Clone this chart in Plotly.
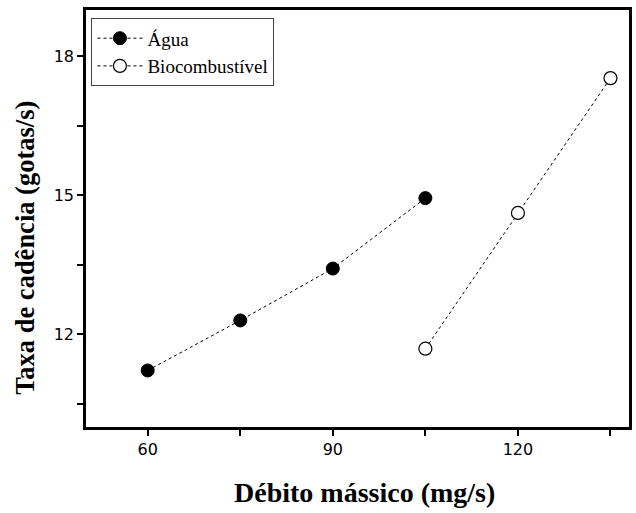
import plotly.graph_objects as go

# Mass flow rate (mg/s) and drop cadence (drops/s)
agua_x = [60, 75, 90, 105]
agua_y = [11.22, 12.30, 13.42, 14.94]

bio_x = [105, 120, 135]
bio_y = [11.69, 14.62, 17.53]

x_ticks = [60, 90, 120]
y_ticks = [12, 15, 18]

x_title = "Débito mássico (mg/s)"
y_title = "Taxa de cadência (gotas/s)"

serif = "Liberation Serif, DejaVu Serif, serif"
sans = "DejaVu Sans, Lato, sans-serif"

fig = go.Figure()
fig.add_trace(go.Scatter(
    x=agua_x, y=agua_y, name="Água", mode="lines+markers",
    line=dict(color="black", width=1, dash="3px,3px"),
    marker=dict(symbol="circle", size=13, color="black",
                line=dict(color="black", width=1)),
))
fig.add_trace(go.Scatter(
    x=bio_x, y=bio_y, name="Biocombustível", mode="lines+markers",
    line=dict(color="black", width=1, dash="3px,3px"),
    marker=dict(symbol="circle", size=13, color="white",
                line=dict(color="black", width=1.2)),
))

axis_common = dict(
    showgrid=False, zeroline=False,
    showline=True, linecolor="black", linewidth=2.5, mirror=True,
    ticks="outside", ticklen=6, tickwidth=2, tickcolor="black",
    minor=dict(ticks="outside", ticklen=6, tickwidth=2, tickcolor="black"),
    tickfont=dict(family=sans, size=16, color="black"),
)

fig.update_xaxes(range=[50, 138], tickvals=x_ticks,
                 minor_tickvals=[75, 105, 135], **axis_common)
fig.update_yaxes(range=[10, 19], tickvals=y_ticks,
                 minor_tickvals=[10.5, 13.5, 16.5], **axis_common)

fig.add_annotation(text=f"<b>{x_title}</b>", xref="paper", yref="paper",
                   x=0.513, y=-0.158, xanchor="center", yanchor="middle",
                   showarrow=False,
                   font=dict(family=serif, size=28, color="black"))
fig.add_annotation(text=f"<b>{y_title}</b>", xref="paper", yref="paper",
                   x=-0.112, y=0.43, xanchor="center", yanchor="middle",
                   textangle=-90, showarrow=False,
                   font=dict(family=serif, size=26.5, color="black"))

fig.update_layout(
    width=636, height=513,
    margin=dict(l=86, r=4, t=10, b=86),
    paper_bgcolor="white", plot_bgcolor="white",
    showlegend=True,
    legend=dict(
        x=0.01, y=0.98, xanchor="left", yanchor="top",
        bgcolor="white", bordercolor="#444", borderwidth=1,
        font=dict(family=serif, size=19, color="black"),
        itemwidth=45, tracegroupgap=0,
    ),
)

fig.write_html("out.html")
